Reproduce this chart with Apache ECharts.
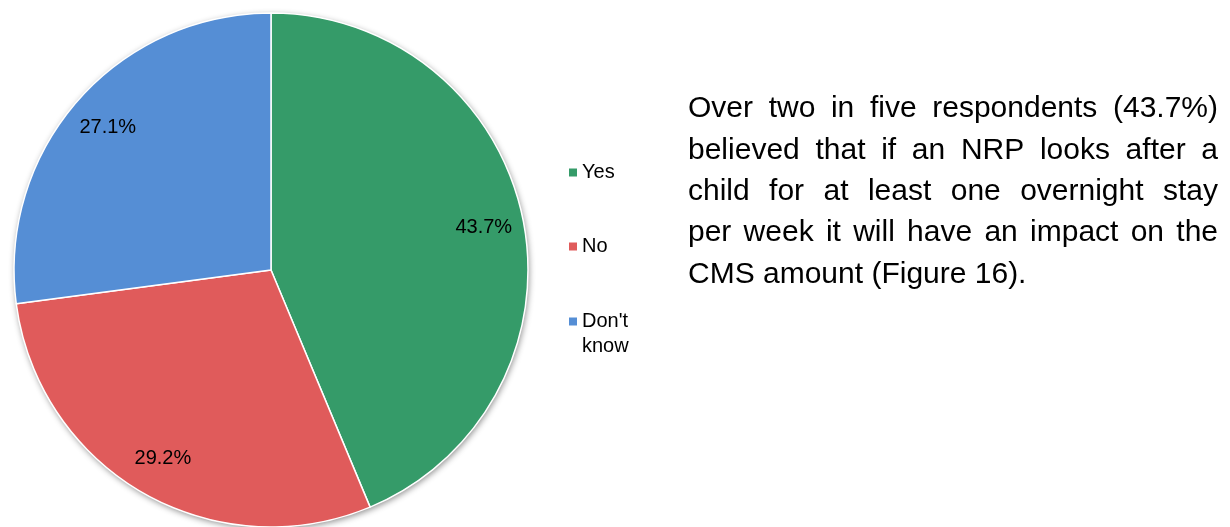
<!DOCTYPE html>
<html>
<head>
<meta charset="utf-8">
<script src="https://cdn.jsdelivr.net/npm/echarts@6/dist/echarts.min.js"></script>
<style>
  html, body { margin: 0; padding: 0; background: #fff; }
  #chart { width: 1230px; height: 527px; }
</style>
</head>
<body>
<div id="chart"></div>
<script>
// Survey answers: share of respondents (%)
const categories = ['Yes', 'No', "Don't know"];
const shares = [43.7, 29.2, 27.1];
const sliceColors = ['#359B69', '#E05B5B', '#558ED5'];

// Commentary printed beside the pie, one entry per line
const paragraphLines = [
  'Over two in five respondents (43.7%)',
  'believed that if an NRP looks after a',
  'child for at least one overnight stay',
  'per week it will have an impact on the',
  'CMS amount (Figure 16).'
];

const pieCenter = [271, 270];
const pieRadius = 257;
const labelRadius = 428;   // inside labels sit at half of this radius

const sliceData = categories.map((name, i) => ({
  name: name,
  value: shares[i],
  itemStyle: { color: sliceColors[i] }
}));

// Justified paragraph: spread words across each line except the last
const bodyFont = '30px "Liberation Sans", Arial, sans-serif';
const textLeft = 688, textRight = 1218, firstLineY = 109, lineStep = 41.4;
const measureCtx = document.createElement('canvas').getContext('2d');
measureCtx.font = bodyFont;
const paragraphGraphics = [];
paragraphLines.forEach((line, i) => {
  const y = firstLineY + i * lineStep;
  const words = line.split(' ');
  if (i === paragraphLines.length - 1 || words.length < 2) {
    paragraphGraphics.push({
      type: 'text', x: textLeft, y: y, silent: true,
      style: { text: line, font: bodyFont, fill: '#000', verticalAlign: 'middle' }
    });
    return;
  }
  const widths = words.map(w => measureCtx.measureText(w).width);
  const total = widths.reduce((a, b) => a + b, 0);
  const gap = (textRight - textLeft - total) / (words.length - 1);
  let x = textLeft;
  words.forEach((w, k) => {
    paragraphGraphics.push({
      type: 'text', x: x, y: y, silent: true,
      style: { text: w, font: bodyFont, fill: '#000', verticalAlign: 'middle' }
    });
    x += widths[k] + gap;
  });
});

const legendCommon = {
  orient: 'vertical',
  left: 564,
  icon: 'rect',
  itemWidth: 8,
  itemHeight: 8,
  itemGap: 49,
  selectedMode: false,
  itemStyle: { borderWidth: 0 },
  textStyle: {
    fontFamily: '"Liberation Sans", Arial, sans-serif',
    fontSize: 20,
    lineHeight: 25,
    color: '#000'
  }
};

const chart = echarts.init(document.getElementById('chart'), null, { renderer: 'canvas' });
chart.setOption({
  animation: false,
  backgroundColor: '#fff',
  legend: [
    Object.assign({}, legendCommon, { top: 155, data: categories.slice(0, 2) }),
    Object.assign({}, legendCommon, {
      top: 279,
      data: categories.slice(2),
      // leading blank line keeps the marker level with the first text line
      formatter: name => ' \n' + name.replace(' ', '\n')
    })
  ],
  graphic: paragraphGraphics,
  series: [
    {
      // soft shadow behind the whole disc
      type: 'pie',
      center: pieCenter,
      radius: pieRadius,
      silent: true,
      label: { show: false },
      labelLine: { show: false },
      itemStyle: {
        color: '#fff',
        shadowBlur: 6,
        shadowOffsetX: 1,
        shadowOffsetY: 2,
        shadowColor: 'rgba(0,0,0,0.45)'
      },
      data: [{ name: '', value: 1 }]
    },
    {
      type: 'pie',
      center: pieCenter,
      radius: pieRadius,
      startAngle: 90,
      clockwise: true,
      silent: true,
      label: { show: false },
      labelLine: { show: false },
      itemStyle: { borderColor: '#fff', borderWidth: 1.5 },
      emphasis: { disabled: true },
      data: sliceData
    },
    {
      // invisible copy that carries the percentage labels
      type: 'pie',
      center: pieCenter,
      radius: labelRadius,
      startAngle: 90,
      clockwise: true,
      silent: true,
      itemStyle: { color: 'rgba(0,0,0,0)', borderWidth: 0 },
      emphasis: { disabled: true },
      labelLine: { show: false },
      label: {
        show: true,
        position: 'inside',
        fontFamily: '"Liberation Sans", Arial, sans-serif',
        fontSize: 20,
        color: '#000',
        formatter: p => p.value.toFixed(1) + '%'
      },
      data: categories.map((name, i) => ({ name: name, value: shares[i] }))
    }
  ]
});
</script>
</body>
</html>
